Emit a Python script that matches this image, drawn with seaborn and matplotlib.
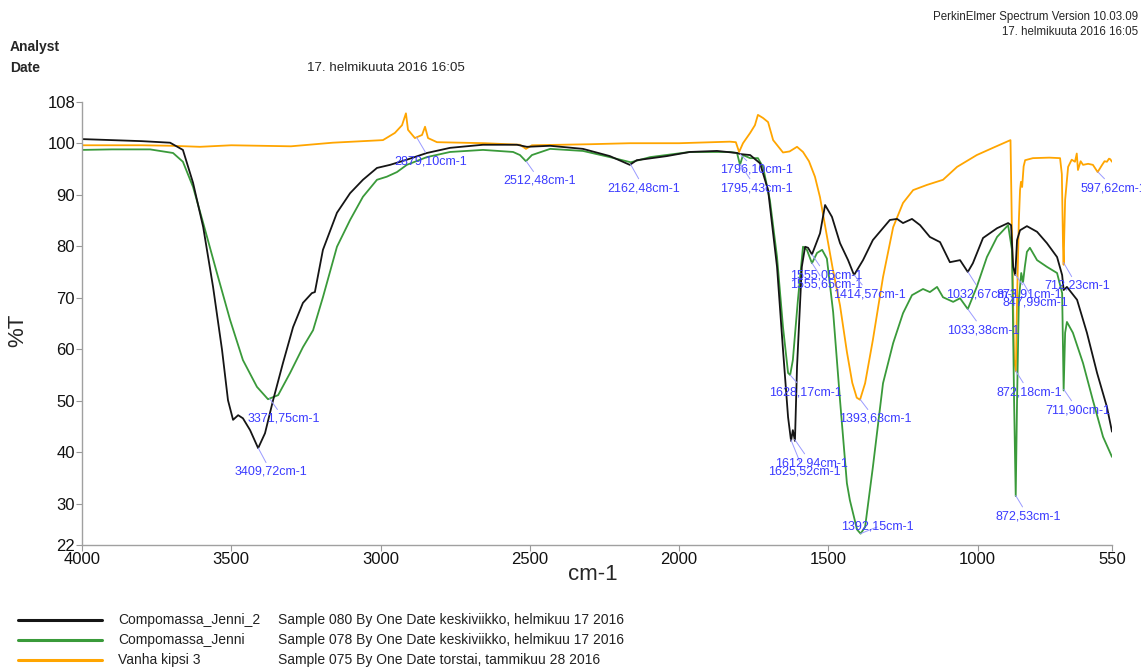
import numpy as np
import pandas as pd
import matplotlib
matplotlib.use("Agg")
from matplotlib import pyplot as plt
from matplotlib.lines import Line2D
import seaborn as sns

# --- spectra (wavenumber cm-1, %T) ---
black_wn = [4000, 3900, 3800, 3705, 3662, 3628, 3594, 3561, 3531, 3511, 3494, 3477, 3461, 3437,
            3410, 3387, 3360, 3327, 3293, 3260, 3230, 3220, 3193, 3146, 3102, 3059, 3012, 2968,
            2912, 2845, 2767, 2657, 2543, 2510, 2432, 2322, 2232, 2165, 2142, 2041, 1964, 1873,
            1806, 1796, 1762, 1729, 1702, 1672, 1652, 1635, 1625, 1619, 1612, 1605, 1589, 1578,
            1568, 1555, 1528, 1511, 1488, 1461, 1434, 1414, 1384, 1351, 1294, 1270, 1250, 1220,
            1193, 1160, 1126, 1093, 1059, 1033, 1016, 982, 935, 898, 888, 881, 874, 868, 858,
            835, 801, 768, 734, 717, 712, 701, 667, 634, 600, 567, 550]
black_t = [100.8, 100.6, 100.4, 100.1, 98.7, 92.3, 83.7, 72.1, 59.9, 50.1, 46.3, 47.2, 46.6, 44.3,
           40.8, 43.7, 50.1, 57.3, 64.3, 69.0, 70.9, 71.1, 79.3, 86.5, 90.3, 92.9, 95.2, 95.8,
           96.8, 98.1, 99.1, 99.7, 99.7, 99.3, 99.5, 98.9, 97.5, 95.8, 96.7, 97.5, 98.3, 98.5,
           98.1, 97.9, 97.7, 96.1, 90.9, 76.0, 59.9, 46.8, 42.2, 44.3, 42.2, 56.6, 76.0, 79.9,
           79.7, 78.4, 82.5, 88.0, 85.7, 80.6, 77.3, 74.4, 77.3, 81.2, 85.1, 85.3, 84.5, 85.3,
           84.1, 81.8, 80.8, 76.9, 77.3, 75.0, 76.7, 81.6, 83.5, 84.5, 84.1, 76.0, 74.4, 81.2, 83.1,
           83.9, 82.8, 80.6, 77.9, 74.4, 71.5, 72.1, 69.6, 63.2, 55.4, 48.8, 44.0]

green_wn = [4000, 3900, 3772, 3695, 3662, 3628, 3594, 3548, 3504, 3461, 3414, 3377, 3343, 3303,
            3260, 3226, 3193, 3146, 3102, 3059, 3012, 2979, 2945, 2912, 2845, 2767, 2657, 2556,
            2533, 2513, 2493, 2432, 2322, 2232, 2176, 2162, 2097, 1964, 1830, 1806, 1796, 1786,
            1762, 1736, 1719, 1696, 1672, 1652, 1635, 1628, 1619, 1602, 1585, 1572, 1555, 1538,
            1521, 1505, 1484, 1461, 1438, 1428, 1404, 1392, 1377, 1351, 1317, 1283, 1250, 1220,
            1183, 1160, 1136, 1116, 1082, 1059, 1033, 1003, 969, 935, 898, 885, 878, 872.5, 868,
            862, 854, 848, 842, 835, 825, 801, 768, 734, 717, 712, 707, 701, 681, 647, 614, 580, 550]
green_t = [98.7, 98.8, 98.8, 98.1, 96.4, 91.5, 84.5, 74.8, 65.7, 57.9, 52.7, 50.3, 51.1, 55.4,
           60.4, 63.7, 70.1, 79.9, 85.1, 89.6, 92.9, 93.5, 94.4, 95.8, 97.3, 98.3, 98.7, 98.3,
           97.7, 96.5, 97.7, 98.9, 98.5, 97.3, 96.5, 96.3, 97.3, 98.3, 98.3, 98.1, 95.8, 97.7,
           97.1, 97.1, 95.4, 89.0, 77.9, 64.3, 55.4, 55.0, 57.9, 69.6, 79.9, 79.3, 76.7, 78.7,
           79.3, 77.6, 67.2, 50.1, 34.0, 30.7, 25.0, 24.2, 25.5, 37.1, 53.4, 61.2, 67.0, 70.5,
           71.7, 71.1, 72.1, 70.1, 69.2, 69.9, 67.8, 72.1, 77.9, 81.8, 84.1, 79.3, 50.1, 31.5, 50.1,
           69.6, 74.8, 73.0, 76.0, 78.9, 79.7, 77.3, 76.0, 74.8, 70.9, 52.0, 63.2, 65.3, 63.2, 57.3,
           50.1, 43.0, 39.1]

orange_wn = [4000, 3800, 3700, 3605, 3500, 3300, 3160, 2992, 2952, 2928, 2915, 2908, 2885, 2861,
             2851, 2841, 2811, 2650, 2533, 2513, 2493, 2300, 2165, 2000, 1830, 1810, 1799, 1786,
             1762, 1746, 1736, 1719, 1702, 1685, 1652, 1630, 1605, 1585, 1565, 1545, 1528, 1505,
             1485, 1461, 1438, 1420, 1405, 1394, 1377, 1351, 1317, 1283, 1250, 1216, 1170, 1116,
             1069, 1003, 949, 898, 890, 885, 878, 872, 868, 862, 858, 855, 851, 846, 841, 815, 760,
             724, 718, 714, 712, 710, 707, 697, 685, 674, 668, 664, 655, 647, 630, 614, 598, 583,
             575, 567, 560, 556, 550]
orange_t = [99.6, 99.6, 99.5, 99.3, 99.6, 99.4, 100.1, 100.6, 102.0, 103.5, 105.8, 102.6, 101.0, 101.6,
            103.2, 101.0, 100.2, 100.0, 99.7, 98.9, 99.6, 99.8, 100.0, 100.0, 100.3, 100.2, 98.3, 100.0,
            102.0, 103.5, 105.5, 104.9, 104.1, 100.6, 98.2, 98.4, 99.3, 98.3, 96.5, 93.5, 89.5, 82.0,
            75.5, 68.5, 59.5, 53.5, 50.6, 50.2, 53.4, 61.8, 74.0, 83.7, 88.4, 90.9, 91.9, 92.9,
            95.4, 97.7, 99.1, 100.4, 100.6, 82.5, 58.0, 55.7, 69.6, 85.0, 90.9, 92.5, 91.5, 95.5,
            96.7, 97.1, 97.2, 97.1, 94.0, 80.0, 76.4, 82.0, 89.0, 95.4, 96.8, 96.4, 98.0, 94.8, 96.5,
            95.8, 96.0, 95.8, 94.4, 95.8, 96.5, 96.4, 97.0, 96.9, 96.4]

series_names = ["Compomassa_Jenni_2", "Compomassa_Jenni", "Vanha kipsi 3"]
series_info = ["Sample 080 By One Date keskiviikko, helmikuu 17 2016",
               "Sample 078 By One Date keskiviikko, helmikuu 17 2016",
               "Sample 075 By One Date torstai, tammikuu 28 2016"]
colors = ["#151515", "#3a9a3a", "#ffa500"]

# peak labels: text, series index, wavenumber
peak_labels = ["3409,72cm-1", "3371,75cm-1", "2879,10cm-1", "2512,48cm-1", "2162,48cm-1",
               "1796,10cm-1", "1795,43cm-1", "1628,17cm-1", "1625,52cm-1", "1612,94cm-1",
               "1555,05cm-1", "1555,65cm-1", "1414,57cm-1", "1393,63cm-1", "1392,15cm-1",
               "1032,67cm-1", "1033,38cm-1", "873,91cm-1", "872,18cm-1", "872,53cm-1",
               "847,99cm-1", "712,23cm-1", "711,90cm-1", "597,62cm-1"]
peak_series = [0, 1, 2, 1, 0, 0, 1, 1, 0, 0, 0, 1, 0, 2, 1, 0, 1, 0, 2, 1, 1, 2, 1, 2]
peak_wn = [3409.72, 3371.75, 2879.10, 2512.48, 2162.48, 1796.10, 1795.43, 1628.17, 1625.52,
           1612.94, 1555.05, 1555.65, 1414.57, 1393.63, 1392.15, 1032.67, 1033.38, 873.91,
           872.18, 872.53, 847.99, 712.23, 711.90, 597.62]
# where the label text sits (wavenumber, %T)
label_pos = [(3367, 36.2), (3323, 46.5), (2831, 96.4), (2466, 92.7), (2118, 91.3),
             (1742, 94.8), (1742, 91.3), (1578, 51.7), (1582, 36.2), (1558, 37.9),
             (1508, 74.4), (1508, 72.5), (1361, 70.7), (1344, 46.5), (1337, 25.5),
             (985, 70.7), (982, 63.7), (828, 70.7), (828, 51.7), (831, 27.6),
             (808, 69.0), (667, 72.3), (664, 48.2), (545, 91.3)]

# long-form table for seaborn
frames = []
for name, wn, t in zip(series_names, [black_wn, green_wn, orange_wn], [black_t, green_t, orange_t]):
    frames.append(pd.DataFrame({"wn": wn, "T": t, "sample": name}))
df = pd.concat(frames, ignore_index=True)

sns.set_style("ticks")
plt.rcParams["font.family"] = ["Liberation Sans", "DejaVu Sans"]

W, H = 1141, 667
fig = plt.figure(figsize=(W / 100, H / 100), dpi=100)
ax = fig.add_axes([82 / W, 122 / H, 1030 / W, 443 / H])

palette = dict(zip(series_names, colors))
sns.lineplot(data=df, x="wn", y="T", hue="sample", palette=palette,
             hue_order=series_names[::-1], sort=False, estimator=None,
             linewidth=1.3, legend=False, ax=ax)

ax.set_xlim(4000, 550)
ax.set_ylim(22, 108)
ax.set_xticks([4000, 3500, 3000, 2500, 2000, 1500, 1000, 550])
ax.set_yticks([22, 30, 40, 50, 60, 70, 80, 90, 100, 108])
ax.set_xlabel("")
ax.set_ylabel("")
ax.tick_params(axis="both", direction="out", length=4, width=0.8, color="#999999",
               labelsize=12, labelcolor="#111111")
ax.tick_params(axis="y", pad=1)
ax.tick_params(axis="x", pad=1)
sns.despine(ax=ax)
for side in ["left", "bottom"]:
    ax.spines[side].set_color("#a0a0a0")
    ax.spines[side].set_linewidth(1.0)

# peak annotations
all_wn = [black_wn, green_wn, orange_wn]
all_t = [black_t, green_t, orange_t]
for lab, si, pw, (tx, ty) in zip(peak_labels, peak_series, peak_wn, label_pos):
    py = np.interp(pw, all_wn[si][::-1], all_t[si][::-1])
    ax.annotate(lab, xy=(pw, py), xytext=(tx, ty), textcoords="data",
                ha="center", va="center", fontsize=9, color="#3b3bff",
                annotation_clip=False,
                arrowprops=dict(arrowstyle="-", color="#9a9aff", lw=0.7,
                                shrinkA=0, shrinkB=0))

fig.text(593 / W, 1 - 575 / H, "cm-1", fontsize=16, ha="center", va="center")
fig.text(18 / W, 1 - 330 / H, "%T", fontsize=16, ha="center", va="center", rotation=90)

# header
narrow = ["Liberation Sans Narrow", "Liberation Sans", "DejaVu Sans"]
fig.text(1138 / W, 1 - 17 / H, "PerkinElmer Spectrum Version 10.03.09", family=narrow,
         fontsize=8.3, ha="right", va="center")
fig.text(1138 / W, 1 - 32 / H, "17. helmikuuta 2016 16:05", family=narrow,
         fontsize=8.3, ha="right", va="center")
fig.text(10 / W, 1 - 47 / H, "Analyst", family=narrow, fontsize=10, weight="bold", va="center")
fig.text(10 / W, 1 - 68 / H, "Date", family=narrow, fontsize=10, weight="bold", va="center")
fig.text(307 / W, 1 - 68 / H, "17. helmikuuta 2016 16:05", family=narrow, fontsize=9.6, va="center")

# legend block
for i, (name, info, c) in enumerate(zip(series_names, series_info, colors)):
    yy = 1 - (620 + 20 * i) / H
    fig.add_artist(Line2D([18 / W, 102 / W], [yy, yy], color=c, lw=2.2))
    fig.text(118 / W, yy, name, fontsize=10, va="center", color="#222222")
    fig.text(278 / W, yy, info, fontsize=10, va="center", color="#222222")

fig.savefig("out.png", dpi=100)
